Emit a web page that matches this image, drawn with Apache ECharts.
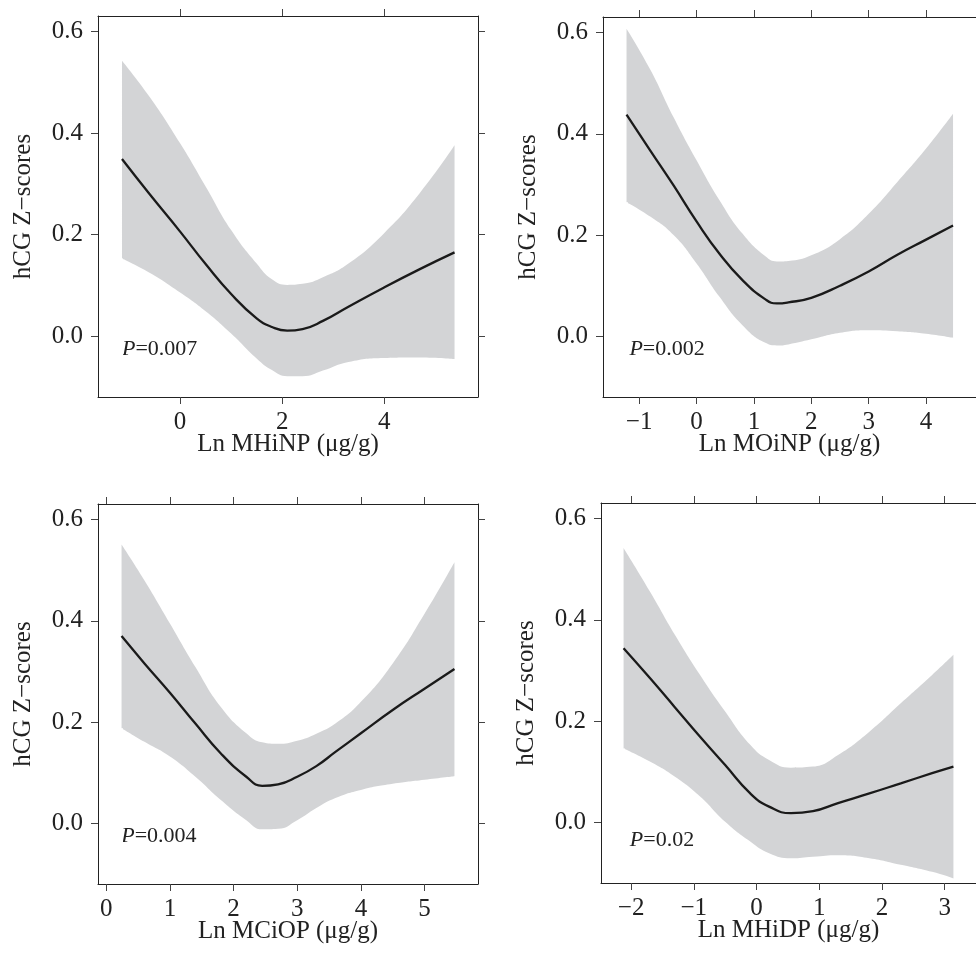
<!DOCTYPE html>
<html lang="en">
<head>
<meta charset="UTF-8">
<title>hCG Z-scores</title>
<style>
    html, body { margin:0; padding:0; background:#fff; }
    #main { width:976px; height:958px; }
</style>
</head>
<body>
<div id="main"></div>
<script src="https://cdn.jsdelivr.net/npm/echarts@6/dist/echarts.min.js"></script>
<script>
    // axis titles and p values
    var xNames = ['Ln MHiNP (μg/g)', 'Ln MOiNP (μg/g)', 'Ln MCiOP (μg/g)', 'Ln MHiDP (μg/g)'];
    var yName = 'hCG Z−scores';
    var pValues = ['0.007', '0.002', '0.004', '0.02'];

    // tick labels
    var yTicks = [0, 0.2, 0.4, 0.6];
    var xTicks1 = [0, 2, 4];
    var xTicks2 = [-1, 0, 1, 2, 3, 4];
    var xTicks3 = [0, 1, 2, 3, 4, 5];
    var xTicks4 = [-2, -1, 0, 1, 2, 3];

    // MHiNP
    var x1   = [-1.14, -0.6, 0, 0.5, 1.0, 1.5, 1.8, 2.1, 2.4, 2.8, 3.3, 4.0, 4.7, 5.38];
    var fit1 = [0.349, 0.280, 0.206, 0.142, 0.083, 0.035, 0.018, 0.011, 0.014, 0.030, 0.058, 0.096, 0.132, 0.165];
    var hi1  = [0.543, 0.472, 0.380, 0.295, 0.209, 0.143, 0.112, 0.101, 0.103, 0.116, 0.143, 0.203, 0.282, 0.376];
    var lo1  = [0.153, 0.125, 0.086, 0.049, 0.005, -0.044, -0.067, -0.079, -0.079, -0.068, -0.051, -0.043, -0.042, -0.045];

    // MOiNP
    var x2   = [-1.22, -0.8, -0.4, 0, 0.4, 0.8, 1.2, 1.4, 1.6, 2.0, 2.5, 3.0, 3.5, 4.0, 4.47];
    var fit2 = [0.438, 0.366, 0.298, 0.227, 0.163, 0.111, 0.073, 0.065, 0.067, 0.076, 0.100, 0.128, 0.161, 0.191, 0.219];
    var hi2  = [0.608, 0.526, 0.433, 0.348, 0.269, 0.203, 0.158, 0.148, 0.149, 0.160, 0.192, 0.242, 0.305, 0.371, 0.440];
    var lo2  = [0.265, 0.236, 0.200, 0.144, 0.078, 0.022, -0.013, -0.018, -0.016, -0.006, 0.007, 0.012, 0.010, 0.005, -0.003];

    // MCiOP
    var x3   = [0.24, 0.6, 1.0, 1.4, 1.8, 2.2, 2.45, 2.7, 3.0, 3.3, 3.6, 4.0, 4.5, 5.0, 5.47];
    var fit3 = [0.370, 0.316, 0.258, 0.197, 0.138, 0.092, 0.074, 0.077, 0.092, 0.113, 0.141, 0.178, 0.224, 0.266, 0.305];
    var hi3  = [0.551, 0.480, 0.395, 0.309, 0.230, 0.178, 0.160, 0.157, 0.163, 0.177, 0.197, 0.240, 0.316, 0.414, 0.516];
    var lo3  = [0.188, 0.161, 0.132, 0.092, 0.046, 0.006, -0.012, -0.011, 0.006, 0.030, 0.050, 0.066, 0.078, 0.086, 0.093];

    // MHiDP
    var x4   = [-2.12, -1.7, -1.3, -0.9, -0.5, -0.1, 0.2, 0.55, 0.9, 1.3, 1.8, 2.3, 2.8, 3.14];
    var fit4 = [0.344, 0.285, 0.227, 0.169, 0.113, 0.057, 0.031, 0.018, 0.022, 0.038, 0.057, 0.077, 0.097, 0.110];
    var hi4  = [0.542, 0.456, 0.370, 0.291, 0.219, 0.153, 0.123, 0.108, 0.110, 0.133, 0.179, 0.235, 0.291, 0.331];
    var lo4  = [0.146, 0.120, 0.090, 0.051, 0.001, -0.038, -0.061, -0.071, -0.068, -0.065, -0.071, -0.084, -0.098, -0.111];

    var panels = [
        {x: x1, fit: fit1, hi: hi1, lo: lo1, ticks: xTicks1},
        {x: x2, fit: fit2, hi: hi2, lo: lo2, ticks: xTicks2},
        {x: x3, fit: fit3, hi: hi3, lo: lo3, ticks: xTicks3},
        {x: x4, fit: fit4, hi: hi4, lo: lo4, ticks: xTicks4}
    ];

    // layout (pixels / axis extents)
    var grids = [
        {left: 98,  top: 16,  width: 380, height: 381},
        {left: 603, top: 17,  width: 380, height: 380},
        {left: 98,  top: 504, width: 380, height: 380},
        {left: 601, top: 503, width: 380, height: 380}
    ];
    var xRanges = [[-1.61, 5.84], [-1.63, 4.87], [-0.13, 5.84], [-2.48, 3.50]];
    var yRange = [-0.12, 0.631];
    var pPos = [[-1.14, -0.025], [-1.17, -0.026], [0.235, -0.026], [-2.02, -0.035]];

    var FONT = "'Liberation Serif', 'Times New Roman', serif";
    var INK = '#222';
    var BAND = '#d3d4d6';

    var myChart = echarts.init(document.getElementById('main'));

    var xAxes = [], yAxes = [], series = [];

    panels.forEach(function(p, i){
        var line = {show: true, onZero: false, lineStyle: {color: INK, width: 1}};
        var tick = {show: true, length: 7, lineStyle: {color: '#444', width: 1}};

        // bottom axis
        xAxes.push({
            gridIndex: i, type: 'value', position: 'bottom', z: 5,
            min: xRanges[i][0], max: xRanges[i][1],
            axisLine: line,
            axisTick: Object.assign({customValues: p.ticks}, tick),
            axisLabel: {
                customValues: p.ticks, margin: 13, fontSize: 25, fontFamily: FONT, color: INK,
                formatter: function(v){ return String(v).replace('-', '−'); }
            },
            splitLine: {show: false},
            name: xNames[i], nameLocation: 'middle', nameGap: 35, nameMoveOverlap: false,
            nameTextStyle: {fontSize: 25, fontFamily: FONT, color: INK}
        });
        // top axis (ticks only)
        xAxes.push({
            gridIndex: i, type: 'value', position: 'top', z: 5,
            min: xRanges[i][0], max: xRanges[i][1],
            axisLine: line,
            axisTick: Object.assign({customValues: p.ticks}, tick),
            axisLabel: {show: false},
            splitLine: {show: false}
        });
        // left axis
        yAxes.push({
            gridIndex: i, type: 'value', position: 'left', z: 5,
            min: yRange[0], max: yRange[1],
            axisLine: line,
            axisTick: Object.assign({customValues: yTicks}, tick),
            axisLabel: {
                customValues: yTicks, margin: 15, fontSize: 25, fontFamily: FONT, color: INK,
                formatter: function(v){ return v.toFixed(1); }
            },
            splitLine: {show: false},
            name: yName, nameLocation: 'middle', nameGap: 62, nameRotate: 90, nameMoveOverlap: false,
            nameTextStyle: {fontSize: 25, fontFamily: FONT, color: INK}
        });
        // right axis (ticks only)
        yAxes.push({
            gridIndex: i, type: 'value', position: 'right', z: 5,
            min: yRange[0], max: yRange[1],
            axisLine: line,
            axisTick: Object.assign({customValues: yTicks}, tick),
            axisLabel: {show: false},
            splitLine: {show: false}
        });

        var xi = i * 2, yi = i * 2;
        var n = p.x.length;
        var hiData = p.x.map(function(x, k){ return [x, p.hi[k]]; });
        var loData = p.x.map(function(x, k){ return [x, p.lo[k]]; });
        var fitData = p.x.map(function(x, k){ return [x, p.fit[k]]; });

        // band: grey fill under the upper limit, white fill under the lower limit
        series.push({
            type: 'line', xAxisIndex: xi, yAxisIndex: yi, z: 1,
            data: hiData, symbol: 'none', smooth: 0.5, silent: true,
            lineStyle: {width: 0, opacity: 0},
            areaStyle: {color: BAND, opacity: 1, origin: 'start'}
        });
        series.push({
            type: 'line', xAxisIndex: xi, yAxisIndex: yi, z: 2,
            data: loData, symbol: 'none', smooth: 0.5, silent: true,
            lineStyle: {width: 0, opacity: 0},
            areaStyle: {color: '#fff', opacity: 1, origin: 'start'},
            // cover the anti-aliased grey seam at both ends of the band
            markLine: {
                silent: true, symbol: 'none', label: {show: false},
                lineStyle: {color: '#fff', width: 2, type: 'solid'},
                data: [
                    [{coord: [p.x[0], p.lo[0]]}, {coord: [p.x[0], yRange[0]]}],
                    [{coord: [p.x[n - 1], p.lo[n - 1]]}, {coord: [p.x[n - 1], yRange[0]]}]
                ]
            }
        });
        series.push({
            type: 'line', xAxisIndex: xi, yAxisIndex: yi, z: 3,
            data: fitData, symbol: 'none', smooth: 0.5, silent: true,
            lineStyle: {color: '#1a1a1a', width: 2.3}
        });
        series.push({
            type: 'scatter', xAxisIndex: xi, yAxisIndex: yi, z: 4,
            data: [pPos[i]], symbolSize: 0, silent: true,
            itemStyle: {opacity: 1},
            label: {
                show: true, position: 'right', distance: 0, opacity: 1,
                formatter: '{i|P}{n|=' + pValues[i] + '}',
                rich: {
                    i: {fontSize: 22, fontFamily: FONT, fontStyle: 'italic', color: INK},
                    n: {fontSize: 22, fontFamily: FONT, color: INK}
                }
            }
        });
    });

    var option = {
        backgroundColor: '#fff',
        animation: false,
        grid: grids,
        xAxis: xAxes,
        yAxis: yAxes,
        series: series
    };
    myChart.setOption(option);
</script>
</body>
</html>
